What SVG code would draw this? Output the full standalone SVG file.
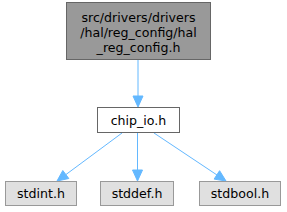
<svg xmlns="http://www.w3.org/2000/svg" width="287" height="212" viewBox="0 0 287 212">
<defs>
<style>
text{font-family:"DejaVu Sans",sans-serif;font-size:12.6px;text-anchor:middle;fill:#000}
.e{stroke:#63b8ff;stroke-width:1;fill:none}
.h{fill:#63b8ff;stroke:#63b8ff}
</style>
</defs>
<rect width="287" height="212" fill="#fff"/>
<g id="connectors">
<path class="e" d="M138,60 L138,96"/>
<polygon class="h" points="133,96 138,107 143,96"/>
<path class="e" d="M122,133 L66,174.5"/>
<polygon class="h" points="62.8,170.5 57,181 68.8,178.5"/>
<path class="e" d="M137.5,133 L137.5,170"/>
<polygon class="h" points="132.5,170 137.5,181 142.5,170"/>
<path class="e" d="M154,133 L217,175"/>
<polygon class="h" points="219.6,170.7 226,181 214.1,179.1"/>
</g>
<g id="node1">
<rect x="66.5" y="2.5" width="144" height="57" fill="#999999" stroke="#666666"/>
<text x="138.5" y="22">src/drivers/drivers</text>
<text x="138.5" y="37">/hal/reg_config/hal</text>
<text x="138.5" y="52">_reg_config.h</text>
</g>
<g id="node2">
<rect x="97.5" y="107.5" width="82" height="25" fill="#fff" stroke="#666666"/>
<text x="138.5" y="125">chip_io.h</text>
</g>
<g id="node3">
<rect x="5.5" y="181.5" width="71" height="24" fill="#e0e0e0" stroke="#999999"/>
<text x="41" y="198">stdint.h</text>
</g>
<g id="node4">
<rect x="100.5" y="181.5" width="73" height="24" fill="#e0e0e0" stroke="#999999"/>
<text x="137" y="198">stddef.h</text>
</g>
<g id="node5">
<rect x="199.5" y="181.5" width="81" height="24" fill="#e0e0e0" stroke="#999999"/>
<text x="240" y="198">stdbool.h</text>
</g>
</svg>
